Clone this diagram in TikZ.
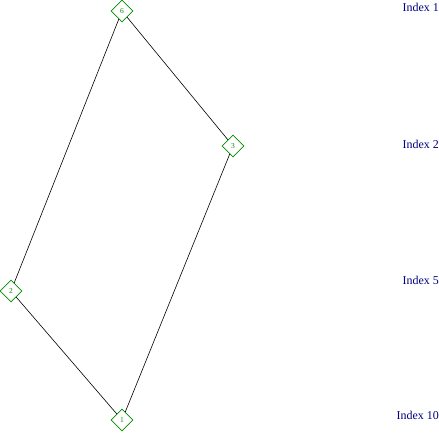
\documentclass[tikz,border=0pt]{standalone}
\usepackage{fontspec}
\setmainfont{Liberation Serif}
\usetikzlibrary{shapes.geometric}
\definecolor{nodegreen}{RGB}{0,140,0}
\definecolor{labelblue}{RGB}{0,0,128}
\tikzset{
  vert/.style={diamond, draw=nodegreen, fill=white, line width=0.6bp, minimum width=22bp, minimum height=22bp, inner sep=0pt, text=nodegreen, font=\fontsize{7.5}{8}\selectfont},
  lvl/.style={anchor=east, text=labelblue, font=\fontsize{12}{13}\selectfont, inner sep=0pt},
  edge/.style={draw=black, line width=0.6bp}
}
\begin{document}
\begin{tikzpicture}[x=1bp,y=-1bp]
\useasboundingbox (0,0) rectangle (439,432);
\node[vert] (n6) at (122,11) {6};
\node[vert] (n3) at (233,146) {3};
\node[vert] (n2) at (11,291) {2};
\node[vert] (n1) at (122,420) {1};
\draw[edge] (n6) -- (n3);
\draw[edge] (n6) -- (n2);
\draw[edge] (n3) -- (n1);
\draw[edge] (n2) -- (n1);
\node[lvl] (l1) at (439,7) {Index 1};
\node[lvl] (l2) at (439,144) {Index 2};
\node[lvl] (l5) at (439,280) {Index 5};
\node[lvl] (l10) at (439,415) {Index 10};
\end{tikzpicture}
\end{document}
